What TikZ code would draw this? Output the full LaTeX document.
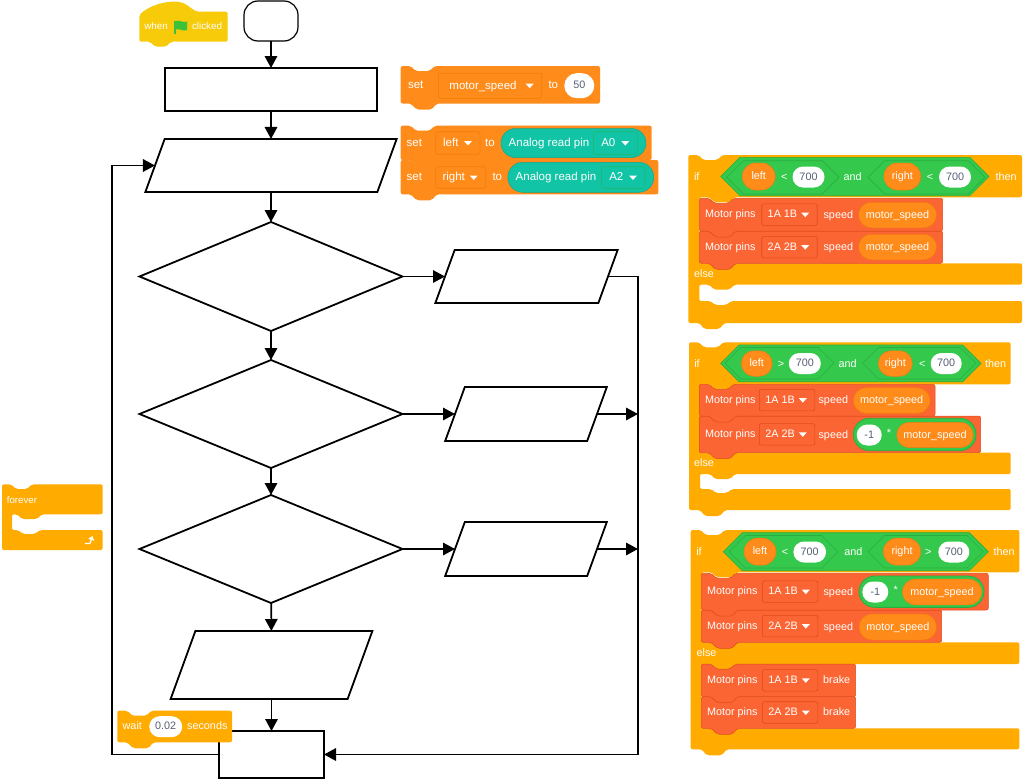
\documentclass[tikz,border=0pt]{standalone}
\usepackage{fontspec}
\setmainfont{Liberation Sans}
\usepackage{xcolor}
\usetikzlibrary{arrows.meta,shapes.geometric,shapes.misc}

\definecolor{ctrlyel}{HTML}{FFAB00}
\definecolor{hatyel}{HTML}{F7CB0A}
\definecolor{flaggreen}{HTML}{3CC13B}
\definecolor{varorg}{HTML}{FF8C1A}
\definecolor{varedge}{HTML}{EE7D0C}
\definecolor{motorred}{HTML}{FB6533}
\definecolor{motoredge}{HTML}{DF4A1C}
\definecolor{opgreen}{HTML}{34C94C}
\definecolor{opedge}{HTML}{2AAE40}
\definecolor{pinteal}{HTML}{12C4A6}
\definecolor{numtxt}{HTML}{575E75}

% block with notch and bump: x1,y1,x2,y2,colour
\newcommand{\stackblk}[5]{
 \fill[#5,rounded corners=2pt] (#1,#2) -- (#1+10,#2) -- (#1+15,#2+5) -- (#1+29,#2+5) -- (#1+34,#2) -- (#3,#2)
  -- (#3,#4) -- (#1+36,#4) -- (#1+31,#4+6) -- (#1+16,#4+6) -- (#1+10,#4) -- (#1,#4) -- cycle;
}
% if-else block: x1,x2,y1,arm bottom,else top,else bottom,foot top,foot bottom
\newcommand{\ifblk}[8]{
 \fill[ctrlyel,rounded corners=2pt] (#1,#3) -- (#1+10,#3) -- (#1+15,#3+5) -- (#1+29,#3+5) -- (#1+34,#3) -- (#2,#3)
  -- (#2,#4) -- (#1+46,#4) -- (#1+41,#4+5) -- (#1+26,#4+5) -- (#1+21,#4) -- (#1+11,#4)
  -- (#1+11,#5) -- (#1+22,#5) -- (#1+27,#5+4) -- (#1+38,#5+4) -- (#1+43,#5) -- (#2,#5)
  -- (#2,#6) -- (#1+46,#6) -- (#1+41,#6+5) -- (#1+26,#6+5) -- (#1+21,#6) -- (#1+11,#6)
  -- (#1+11,#7) -- (#1+22,#7) -- (#1+27,#7+4) -- (#1+38,#7+4) -- (#1+43,#7) -- (#2,#7)
  -- (#2,#8) -- (#1+36,#8) -- (#1+31,#8+6) -- (#1+16,#8+6) -- (#1+11,#8) -- (#1,#8) -- cycle;
}
% six sided operator: x1,x2,y1,y2,style
\newcommand{\hexblk}[5]{
 \path[#5] (#1,{(#3+#4)/2}) -- ({#1+(#4-#3)/2},#3) -- ({#2-(#4-#3)/2},#3) -- (#2,{(#3+#4)/2})
  -- ({#2-(#4-#3)/2},#4) -- ({#1+(#4-#3)/2},#4) -- cycle;
}
% menu box: name,x1,x2,yc,height,text,box style
\newcommand{\menubox}[7]{
 \node[menu,#7,minimum width={(#3-#2)*1pt},minimum height=#5pt] (#1) at ({(#2+#3)/2},{#4}) {};
 \node[#7txt] (#1txt) at ({(#2+#3)/2-7},{#4}) {#6};
 \fill[white] ({#3-16},{#4-2}) -- ({#3-8},{#4-2}) -- ({#3-12},{#4+2.5}) -- cycle;
}
% motor row: name,x1,x2,y1,y2,menu left,text
\newcommand{\motorrow}[7]{
 \stackblk{#2}{#4}{#3}{#5}{motorred,draw=motoredge,line width=.5pt}
 \node[blktxt] (#1lab) at (#2+31,{(#4+#5)/2}) {Motor pins};
 \menubox{#1menu}{#6}{#6+55.5}{(#4+#5)/2}{21.5}{#7}{motormenu}
}

\begin{document}
\begin{tikzpicture}[x=1pt,y=-1pt,
  flow/.style={draw,line width=1.8pt,inner sep=0pt,outer sep=0pt},
  procbox/.style={flow,rectangle},
  parabox/.style n args={2}{flow,trapezium,trapezium left angle=70,trapezium right angle=110,
    inner xsep={(#1-#2*0.364)/2*1pt},inner ysep={#2/2*1pt}},
  testbox/.style={flow,diamond},
  conn/.style={line width=1.6pt,-{Triangle[length=12pt,width=12.5pt]}},
  blktxt/.style={text=white,font=\fontsize{10.8}{12}\selectfont,inner sep=0pt,text height=8.5pt,text depth=2.1pt},
  settxt/.style={text=white,font=\fontsize{11.5}{13}\selectfont,inner sep=0pt,text height=9pt,text depth=2.3pt},
  menu/.style={rectangle,rounded corners=2pt,line width=.6pt,inner sep=0pt},
  motormenu/.style={draw=motoredge,fill=motorred},
  motormenutxt/.style={blktxt},
  setmenu/.style={draw=varedge,fill=varorg},
  setmenutxt/.style={settxt},
  pinmenu/.style={draw=opedge!60!pinteal,fill=pinteal},
  pinmenutxt/.style={settxt},
  pill/.style={rounded rectangle,inner sep=0pt,minimum height=21pt,text height=8.5pt,text depth=2.1pt},
  numpill/.style={pill,fill=white,text=numtxt,font=\fontsize{10.8}{12}\selectfont},
  varpill/.style={pill,fill=varorg,draw=varedge,line width=.5pt,text=white,font=\fontsize{10.8}{12}\selectfont},
  mathpill/.style={pill,fill=opgreen,draw=opedge,line width=.8pt},
  pinpill/.style={pill,fill=pinteal,draw=pinteal!85!black,line width=.5pt},
  hexouter/.style={fill=opgreen,draw=opedge,line width=.6pt},
  hexinner/.style={draw=opedge,line width=.6pt}]
 \useasboundingbox (0,0) rectangle (1023,779);
 % flow chart
 \node[flow,rectangle,rounded corners=14pt,line width=1.2pt,minimum width=54pt,minimum height=40pt] (start) at (271,21) {};
 \node[procbox,minimum width=212pt,minimum height=43pt] (setup) at (271,89.5) {};
 \node[parabox={232}{53}] (readin) at (271,165.5) {};
 \node[testbox,minimum width=263pt,minimum height=109pt] (testa) at (271,276.5) {};
 \node[testbox,minimum width=263pt,minimum height=108pt] (testb) at (271,414) {};
 \node[testbox,minimum width=263pt,minimum height=108pt] (testc) at (271,549) {};
 \node[parabox={163}{53}] (drivea) at (526.5,276.5) {};
 \node[parabox={142}{54}] (driveb) at (526,414) {};
 \node[parabox={142}{54}] (drivec) at (526,549) {};
 \node[parabox={177}{68}] (stopall) at (271.5,665) {};
 \node[procbox,minimum width=105pt,minimum height=47pt] (pause) at (271.5,754.5) {};
 \coordinate (loopc) at (112,400);
 \coordinate (busc) at (638,500);
 \draw[conn] (start) -- (setup);
 \draw[conn] (setup) -- (readin);
 \draw[conn] (readin) -- (testa);
 \draw[conn] (testa) -- (testb);
 \draw[conn] (testb) -- (testc);
 \draw[conn] (testc) -- (stopall);
 \draw[conn] (stopall) -- (pause);
 \draw[conn] (testa) -- (drivea);
 \draw[conn] (testb) -- (driveb);
 \draw[conn] (testc) -- (drivec);
 \draw[conn] (drivea.east) -| (busc) |- (pause.east);
 \draw[conn] (driveb.east) -- (busc |- driveb.east);
 \draw[conn] (drivec.east) -- (busc |- drivec.east);
 \draw[conn] (pause.west) -| (loopc) |- (readin.west);
 % hat block
 \fill[hatyel,rounded corners=2pt] (139.3,41.7) -- (139.3,15) .. controls (150,5) and (165,1.5) .. (176,1.7)
  .. controls (185,2) and (190,8) .. (197,11.7) -- (227.7,11.7) -- (227.7,41.7) -- (171,41.7) -- (166,46.7) -- (155,46.7) -- (150,41.7) -- cycle;
 \node[blktxt,font=\fontsize{9.8}{12}\selectfont] (whenw) at (156,26.5) {when};
 \node[blktxt,font=\fontsize{9.8}{12}\selectfont] (clickw) at (207,26.5) {clicked};
 \fill[flaggreen] (174,20.5) rectangle (175.5,33.5);
 \fill[flaggreen] (175.5,21) .. controls (180,19.5) and (183,23.5) .. (187,21.5) -- (187,30) .. controls (183,32) and (180,28) .. (175.5,29.5) -- cycle;
 % set blocks
 \stackblk{400.7}{66}{600}{103.5}{varorg}
 \node[settxt] (setw) at (415.7,85.5) {set};
 \menubox{speedvar}{438.3}{541.7}{85.7}{25}{motor\_speed}{setmenu}
 \node[settxt] (tow) at (553.3,85.5) {to};
 \node[numpill,minimum width=30pt,minimum height=25pt] (speedval) at (579.3,85.7) {50};
 \stackblk{400.7}{160}{658.3}{194.3}{varorg}
 \stackblk{400.7}{125.7}{651.7}{160}{varorg}
 \node[settxt] (setl) at (414.3,143) {set};
 \menubox{leftvar}{435.7}{480}{143}{22.5}{left}{setmenu}
 \node[settxt] (tol) at (490,143) {to};
 \node[pinpill,minimum width=145pt,minimum height=29pt] (leftpin) at (573.5,143) {};
 \node[settxt] (readl) at (549,143) {Analog read pin};
 \menubox{leftport}{593.3}{637.3}{143}{22.5}{A0}{pinmenu}
 \node[settxt] (setr) at (414.3,177.5) {set};
 \menubox{rightvar}{435.7}{485.7}{177.5}{21.5}{right}{setmenu}
 \node[settxt] (tor) at (497.3,177.5) {to};
 \node[pinpill,minimum width=146pt,minimum height=30pt] (rightpin) at (580.8,177.3) {};
 \node[settxt] (readr) at (556,177.5) {Analog read pin};
 \menubox{rightport}{601.7}{645}{177.5}{21.5}{A2}{pinmenu}
 % forever and wait
 \fill[ctrlyel,rounded corners=2pt] (2,484.3) -- (11,484.3) -- (16,489) -- (27,489) -- (32,484.3) -- (102.7,484.3)
  -- (102.7,514.3) -- (42,514.3) -- (37,519) -- (22,519) -- (17,514.3) -- (12,514.3)
  -- (12,530) -- (18,530) -- (23,534) -- (35,534) -- (40,530) -- (102.7,530) -- (102.7,550) -- (2,550) -- cycle;
 \node[blktxt,font=\fontsize{9.7}{12}\selectfont] (foreverw) at (22,500) {forever};
 \coordinate (turna) at (85,543.5);
 \coordinate (turnb) at (92.5,536);
 \draw[white,line width=1.2pt,-{Triangle[length=4pt,width=6pt]}] (turna) -- ++(5,0) -- (turnb);
 \stackblk{117.3}{710.7}{232}{742.3}{ctrlyel}
 \node[blktxt] (waitw) at (132.3,726.7) {wait};
 \node[numpill,minimum width=33pt] (waitval) at (165.7,726.7) {0.02};
 \node[blktxt] (secw) at (207.3,726.7) {seconds};
 % both dark
 \ifblk{688.3}{1022}{155}{197.3}{263.3}{284.7}{301}{323}
 \hexblk{720.7}{989}{157.3}{195.7}{hexouter}
 \hexblk{726.7}{839}{160.7}{194}{hexinner}
 \hexblk{868}{985}{160.7}{194}{hexinner}
 \node[blktxt] (ifa) at (696.7,177) {if};
 \node[varpill,minimum width=33pt,minimum height=27pt] (lefta) at (758.7,176.5) {left};
 \node[blktxt] (lta) at (784.3,177) {<};
 \node[numpill,minimum width=32pt] (vala) at (808.5,177) {700};
 \node[blktxt] (anda) at (852.7,177) {and};
 \node[varpill,minimum width=37pt,minimum height=27pt] (righta) at (902.3,176.5) {right};
 \node[blktxt] (ltb) at (930,177) {<};
 \node[numpill,minimum width=32pt] (valb) at (955,177) {700};
 \node[blktxt] (thena) at (1006,177) {then};
 \motorrow{rowb}{699.3}{942.7}{231}{263.3}{761.7}{2A 2B}
 \node[blktxt] (speedb) at (838.3,247) {speed};
 \node[varpill,minimum width=78pt,minimum height=25.5pt] (varb) at (897.5,247) {motor\_speed};
 \motorrow{rowa}{699.3}{942.7}{198.3}{231}{761.7}{1A 1B}
 \node[blktxt] (speeda) at (838.3,215) {speed};
 \node[varpill,minimum width=78pt,minimum height=25.5pt] (vara) at (897.5,215) {motor\_speed};
 \node[blktxt] (elsea) at (704,274) {else};
 % left dark
 \ifblk{689}{1010.7}{342.3}{384.3}{452.7}{474}{489}{510}
 \hexblk{720.7}{981}{345}{381.7}{hexouter}
 \hexblk{725}{834}{347.5}{379}{hexinner}
 \hexblk{862.7}{976}{347.5}{379}{hexinner}
 \node[blktxt] (ifb) at (697,364) {if};
 \node[varpill,minimum width=31pt,minimum height=25.5pt] (leftb) at (756.7,363.5) {left};
 \node[blktxt] (gtb) at (781,364) {>};
 \node[numpill,minimum width=32pt] (valc) at (804.8,363.5) {700};
 \node[blktxt] (andb) at (847.7,364) {and};
 \node[varpill,minimum width=34pt,minimum height=25.5pt] (rightb) at (895.3,363.5) {right};
 \node[blktxt] (ltc) at (922.3,364) {<};
 \node[numpill,minimum width=31pt] (vald) at (946.2,363.5) {700};
 \node[blktxt] (thenb) at (995.7,364) {then};
 \motorrow{rowd}{699.3}{980.7}{416}{452.7}{759.3}{2A 2B}
 \node[blktxt] (speedd) at (833.3,435) {speed};
 \node[mathpill,minimum width=122.7pt,minimum height=32.4pt] (matha) at (914.7,434.5) {};
 \node[numpill,minimum width=25pt] (mula) at (869.2,435) {-1};
 \node[blktxt] (stara) at (889,433) {*};
 \node[varpill,minimum width=76.6pt,minimum height=25.4pt] (vard) at (935,435) {motor\_speed};
 \motorrow{rowc}{699.3}{935}{384.3}{416}{759.3}{1A 1B}
 \node[blktxt] (speedc) at (833.3,400.5) {speed};
 \node[varpill,minimum width=76.7pt,minimum height=25.6pt] (varc) at (891.7,400.5) {motor\_speed};
 \node[blktxt] (elseb) at (704,463.5) {else};
 % right dark
 \ifblk{690.7}{1019.3}{530}{572.3}{642.3}{664}{728.3}{749.3}
 \hexblk{723.3}{988.3}{532.7}{570.7}{hexouter}
 \hexblk{729}{838}{535.5}{568}{hexinner}
 \hexblk{868.3}{983.3}{535.5}{568}{hexinner}
 \node[blktxt] (ifc) at (699,552) {if};
 \node[varpill,minimum width=32pt,minimum height=27pt] (leftc) at (760,551.7) {left};
 \node[blktxt] (ltd) at (785,552) {<};
 \node[numpill,minimum width=32.7pt] (vale) at (809.7,552) {700};
 \node[blktxt] (andc) at (853.3,552) {and};
 \node[varpill,minimum width=37.4pt,minimum height=27pt] (rightc) at (902,551.7) {right};
 \node[blktxt] (gtc) at (928.3,552) {>};
 \node[numpill,minimum width=31pt] (valf) at (953.8,552) {700};
 \node[blktxt] (thenc) at (1004,552) {then};
 \motorrow{rowh}{701.3}{855.7}{696.7}{728.3}{762.3}{2A 2B}
 \node[blktxt] (brakeb) at (836.7,712.5) {brake};
 \motorrow{rowg}{701.3}{855.7}{664}{696.7}{762.3}{1A 1B}
 \node[blktxt] (brakea) at (836.7,680.5) {brake};
 \motorrow{rowf}{701.3}{941.7}{610}{642.3}{762.3}{2A 2B}
 \node[blktxt] (speedf) at (838.3,627) {speed};
 \node[varpill,minimum width=77.7pt,minimum height=26pt] (varf) at (897.8,627) {motor\_speed};
 \motorrow{rowe}{701.3}{988.3}{573.3}{610}{762.3}{1A 1B}
 \node[blktxt] (speede) at (838.3,592) {speed};
 \node[mathpill,minimum width=125pt,minimum height=31.3pt] (mathb) at (921.5,591.7) {};
 \node[numpill,minimum width=26pt] (mulb) at (875.3,592) {-1};
 \node[blktxt] (starb) at (895.7,590) {*};
 \node[varpill,minimum width=79.4pt,minimum height=25.7pt] (vare) at (942,592) {motor\_speed};
 \node[blktxt] (elsec) at (706.5,653.5) {else};
\end{tikzpicture}
\end{document}
